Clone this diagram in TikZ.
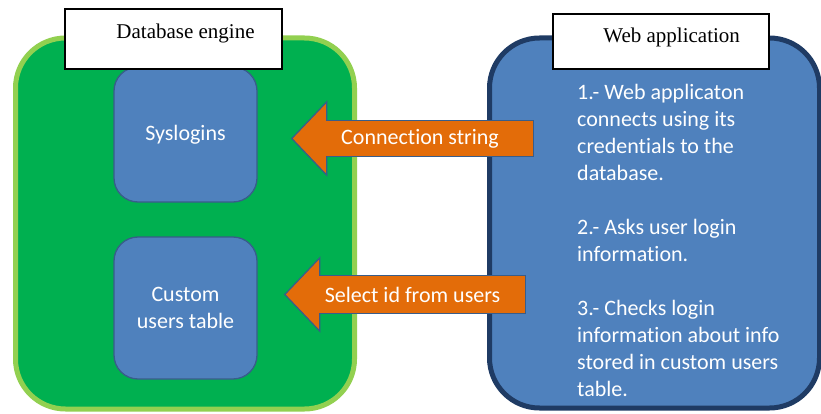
\documentclass[tikz,border=0pt]{standalone}
\usepackage{fontspec}
\setmainfont{Liberation Serif}
\newfontfamily\calibri[Ligatures=NoCommon]{Carlito}
\usetikzlibrary{positioning, calc}

\definecolor{dbgreen}{HTML}{00B050}
\definecolor{dbedge}{HTML}{92D050}
\definecolor{appblue}{HTML}{4F81BD}
\definecolor{appedge}{HTML}{1F3B64}
\definecolor{tableedge}{HTML}{385D8A}
\definecolor{reqorange}{HTML}{E36C09}

\begin{document}
\begin{tikzpicture}[x=1pt, y=-1pt,
    groupbox/.style={draw, line width=5pt, rounded corners=50pt, inner sep=0pt},
    tablebox/.style={draw=tableedge, fill=appblue, line width=1.3pt, rounded corners=24pt,
      minimum width=143pt, text=white, font=\calibri\fontsize{22}{27}\selectfont},
    titlebox/.style={draw, fill=white, line width=1.5pt, inner sep=0pt},
    titletext/.style={font=\fontsize{21}{25}\selectfont, inner sep=0pt},
    steps/.style={text=white, inner sep=0pt, align=left, font=\calibri\fontsize{22}{27}\selectfont},
    reqshaft/.style={fill=reqorange, inner sep=0pt, text=white,
      font=\calibri\fontsize{22}{27}\selectfont, execute at end node={\hspace*{20pt}}},
    reqhead/.style={fill=reqorange, draw=tableedge, line width=1.2pt, line join=miter},
    reqedge/.style={draw=tableedge, line width=1.2pt}]
  \useasboundingbox (0,0) rectangle (821,414);

  % database engine
  \node[groupbox, fill=dbgreen, draw=dbedge, minimum width=339pt, minimum height=371pt] (engine) at (185,223.5) {};
  \node[tablebox, minimum height=135pt] (syslogins) at (185.5,134.5) {Syslogins};
  \node[tablebox, minimum height=142pt, align=center] (users table) at (185.5,308) {Custom\\users table};
  \node[titlebox, minimum width=217pt, minimum height=60pt] (engine title) at (173.5,39) {};
  \node[titletext, anchor=base west] (engine label) at ($(engine title.north west)+(52,30)$) {Database engine};

  % web application
  \node[groupbox, fill=appblue, draw=appedge, minimum width=330pt, minimum height=370pt] (webapp) at (654.5,223) {};
  \node[titlebox, minimum width=216pt, minimum height=55pt] (webapp title) at (661,41.5) {};
  \node[titletext, anchor=base west] (webapp label) at ($(webapp title.north west)+(51,29)$) {Web application};
  \node[steps, anchor=north west] (webapp steps) at (577,84) {1.- Web applicaton\\connects using its\\credentials to the\\database.\\[27pt]2.- Asks user login\\information.\\[27pt]3.- Checks login\\information about info\\stored in custom users\\table.};

  % requests
  \node[reqshaft, minimum width=206pt, minimum height=35pt] (conn string) at (430,138.5) {Connection string};
  \filldraw[reqhead] (conn string.north west) -- ++(0,-19) -- ($(conn string.west)+(-35,0)$) -- ($(conn string.south west)+(0,19)$) -- (conn string.south west);
  \draw[reqedge] (conn string.north west) -- (conn string.north east) -- (conn string.south east) -- (conn string.south west);

  \node[reqshaft, minimum width=205pt, minimum height=37pt] (select users) at (422.5,294.5) {Select id from users};
  \filldraw[reqhead] (select users.north west) -- ++(0,-18) -- ($(select users.west)+(-35,0)$) -- ($(select users.south west)+(0,18)$) -- (select users.south west);
  \draw[reqedge] (select users.north west) -- (select users.north east) -- (select users.south east) -- (select users.south west);
\end{tikzpicture}
\end{document}
